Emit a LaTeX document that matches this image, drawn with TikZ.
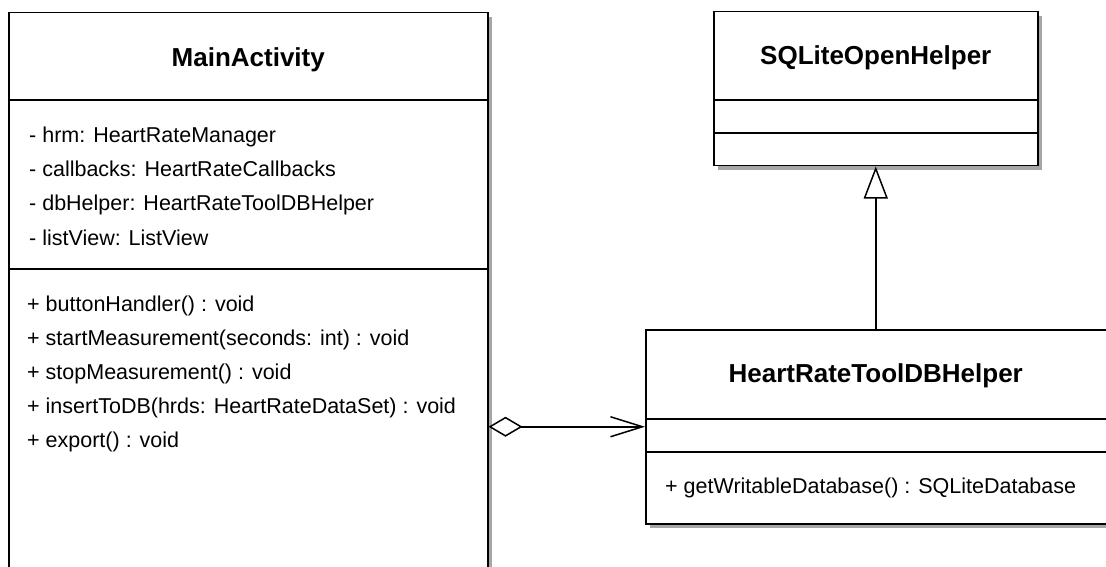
\documentclass[tikz,border=0pt]{standalone}
\usepackage{fontspec}
\setmainfont{Liberation Sans}
\usetikzlibrary{arrows.meta, shadows}

\begin{document}
\begin{tikzpicture}[x=1pt, y=-1pt,
            classbox/.style = {rectangle, draw, line width=1.5pt, fill=white, anchor=north west, inner sep=0pt,
                               drop shadow={shadow xshift=4pt, shadow yshift=-4pt, fill=black!35, opacity=1}},
            classname/.style = {font=\bfseries\fontsize{26}{30}\selectfont, anchor=base, inner sep=0pt},
            member/.style = {font=\fontsize{21.5}{25}\selectfont, anchor=base west, inner sep=0pt},
            sep/.style = {line width=1.5pt},
            aggr/.style = {line width=1.5pt, {Diamond[open, length=34pt, width=20pt]}-{Straight Barb[length=32pt, width=20pt]}},
            inherit/.style = {line width=1.5pt, -{Triangle[open, length=32pt, width=24pt, fill=white]}}]
            \useasboundingbox (0,0) rectangle (1106,567);
            \clip (0,0) rectangle (1106,567);
            % class boxes
            \node (main) [classbox, minimum width=479pt, minimum height=620pt] at (8,12) {};
            \node (sqlite) [classbox, minimum width=324pt, minimum height=154pt] at (713,11) {};
            \node (helper) [classbox, minimum width=463pt, minimum height=194pt] at (645,329) {};
            % compartments
            \draw [sep] (main.west |- 0,100) -- (main.east |- 0,100);
            \draw [sep] (main.west |- 0,269) -- (main.east |- 0,269);
            \draw [sep] (sqlite.west |- 0,100) -- (sqlite.east |- 0,100);
            \draw [sep] (sqlite.west |- 0,133) -- (sqlite.east |- 0,133);
            \draw [sep] (helper.west |- 0,419) -- (helper.east |- 0,419);
            \draw [sep] (helper.west |- 0,452) -- (helper.east |- 0,452);
            % names
            \node (main_name) [classname] at (main.north |- 0,67) {MainActivity};
            \node (sqlite_name) [classname] at (sqlite.north |- 0,65) {SQLiteOpenHelper};
            \node (helper_name) [classname] at (sqlite.north |- 0,382) {HeartRateToolDBHelper};
            % members
            \foreach \txt [count=\i] in {- hrm: HeartRateManager, - callbacks: HeartRateCallbacks,
                                         - dbHelper: HeartRateToolDBHelper, - listView: ListView}
                \node (attr\i) [member] at (29, {143+34*(\i-1)}) {\txt};
            \foreach \txt [count=\i] in {+ buttonHandler() : void, + startMeasurement(seconds: int) : void,
                                         + stopMeasurement() : void, + insertToDB(hrds: HeartRateDataSet) : void,
                                         + export() : void}
                \node (op\i) [member] at (27, {311+34*(\i-1)}) {\txt};
            \node (helper_op) [member] at (665,493) {+ getWritableDatabase() : SQLiteDatabase};
            % relations
            \draw [aggr] (main.east |- helper.west) -- (helper.west);
            \draw [inherit] (helper.north -| sqlite.south) -- (sqlite.south);
\end{tikzpicture}
\end{document}
